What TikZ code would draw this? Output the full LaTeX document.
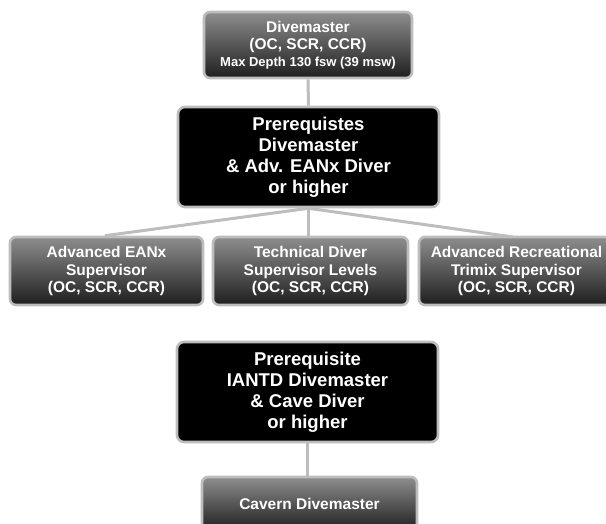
\documentclass[tikz,border=0pt]{standalone}
\usepackage{fontspec}
\setmainfont{Liberation Sans}
\usetikzlibrary{backgrounds}
\definecolor{edge}{HTML}{BDBDBD}
\definecolor{gtop}{HTML}{8E8E8E}
\definecolor{gbot}{HTML}{1E1E1E}
\tikzset{
  graybox/.style={draw=edge, line width=2.6pt, rounded corners=6pt, top color=gtop, bottom color=gbot,
    text=white, align=center, inner sep=0pt, font=\bfseries\fontsize{15.5}{17.5}\selectfont},
  blackbox/.style={draw=edge, line width=2.6pt, rounded corners=7pt, fill=black,
    text=white, align=center, inner sep=0pt, font=\bfseries\fontsize{18.5}{21}\selectfont},
  link/.style={draw=edge, line width=3pt}
}
\begin{document}
\begin{tikzpicture}[x=1pt,y=-1pt]
\clip (0,0) rectangle (606,524);
\useasboundingbox (0,0) rectangle (606,524);
\node[graybox, minimum width=208pt, minimum height=66pt] (dm) at (308,45)
  {\fontsize{15.5}{18.5}\selectfont Divemaster\\(OC, SCR, CCR)\\[-1pt]{\fontsize{13}{15}\selectfont Max Depth 130 fsw (39 msw)}};
\node[blackbox, minimum width=261pt, minimum height=100pt] (pre1) at (308.5,157)
  {Prerequistes\\Divemaster\\\&~Adv. EANx Diver\\or higher};
\node[graybox, minimum width=193pt, minimum height=68pt] (ean) at (106.5,271)
  {Advanced EANx\\Supervisor\\(OC, SCR, CCR)};
\node[graybox, minimum width=195pt, minimum height=68pt] (tech) at (310.5,271)
  {Technical Diver\\Supervisor Levels\\(OC, SCR, CCR)};
\node[graybox, minimum width=195pt, minimum height=68pt] (tmx) at (516.5,271)
  {Advanced Recreational\\Trimix Supervisor\\(OC, SCR, CCR)};
\node[blackbox, minimum width=261pt, minimum height=100pt] (pre2) at (307.5,392)
  {Prerequisite\\IANTD Divemaster\\\&~Cave Diver\\or higher};
\node[graybox, minimum width=215pt, minimum height=54pt] (cav) at (309.5,504)
  {Cavern Divemaster};
\begin{scope}[on background layer]
\draw[link] (dm.south) -- (pre1.north);
\draw[link] (pre1.south) -- (ean.north -| 105,0);
\draw[link] (pre1.south) -- (pre1.south |- tech.north);
\draw[link] (pre1.south) -- (513,237);
\draw[link] (pre2.south) -- (pre2.south |- cav.north);
\end{scope}
\end{tikzpicture}
\end{document}
